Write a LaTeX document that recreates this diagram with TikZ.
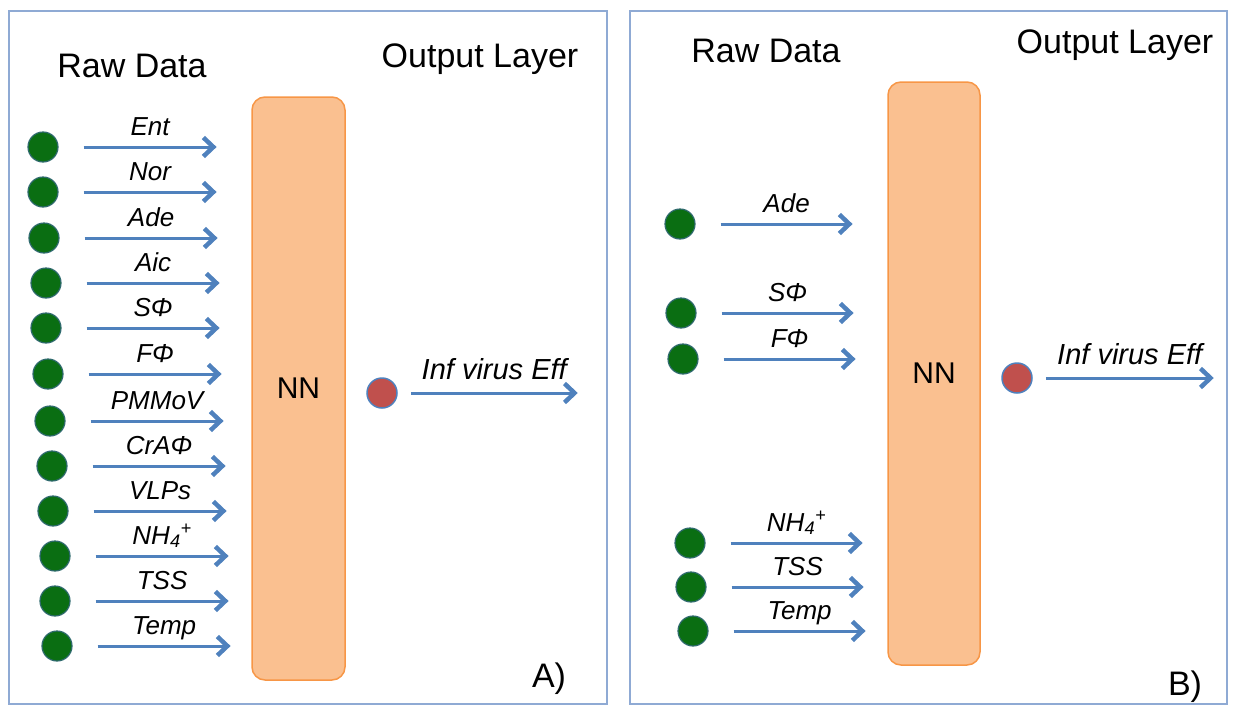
\documentclass[tikz,border=0pt]{standalone}
\usepackage{fontspec}
\setmainfont{Liberation Sans}
\usetikzlibrary{arrows.meta,positioning}
\tikzset{>={Straight Barb[length=10pt,width=19pt,line width=4.5pt]}}
\definecolor{frameColor}{HTML}{8FAAD4}
\definecolor{penColor}{HTML}{4F81BD}
\definecolor{dotGreen}{HTML}{0A6E12}
\definecolor{dotEdge}{HTML}{2F6A6E}
\definecolor{dotRed}{HTML}{C0504D}
\definecolor{nnFill}{HTML}{FAC090}
\definecolor{nnLine}{HTML}{F79646}
\newcommand{\titlefont}{\fontsize{34}{40}\selectfont}
\newcommand{\labelfont}{\fontsize{26}{30}\selectfont\itshape}

\begin{document}
\begin{tikzpicture}[x=1pt,y=-1pt,
	frame/.style={draw=frameColor,line width=2pt},
	indot/.style={circle,fill=dotGreen,draw=dotEdge,line width=1.2pt,minimum size=30pt,inner sep=0pt},
	outdot/.style={circle,fill=dotRed,draw=penColor,line width=1.5pt,minimum size=30pt,inner sep=0pt},
	flow/.style={->,penColor,line width=3pt},
	lbl/.style={midway,anchor=base,yshift=12pt,inner sep=0pt,text=black,font=\labelfont},
	nnbox/.style={draw=nnLine,fill=nnFill,line width=1.5pt,rounded corners=13pt,font=\fontsize{30}{34}\selectfont},
	title/.style={anchor=base,inner sep=0pt,font=\titlefont}]
\useasboundingbox (0,0) rectangle (1235,707);
% panel A
\draw[frame] (9,11) rectangle (607,704);
\node[title] (rawA) at (132,77) {Raw Data};
\node[title] (outA) at (480,67) {Output Layer};
\node[nnbox,minimum width=93pt,minimum height=583pt] (nnA) at (298.5,388.5) {NN};
\node[indot] (a1) at (43,147) {};
\node[indot] (a2) at (43,192) {};
\node[indot] (a3) at (44,238) {};
\node[indot] (a4) at (46,283) {};
\node[indot] (a5) at (46,328) {};
\node[indot] (a6) at (48,374) {};
\node[indot] (a7) at (50,421) {};
\node[indot] (a8) at (52,466) {};
\node[indot] (a9) at (53,511) {};
\node[indot] (a10) at (55,556) {};
\node[indot] (a11) at (55,601) {};
\node[indot] (a12) at (57,646) {};
\draw[flow] ([xshift=25pt]a1.east) -- ++(133,0) node[lbl] {Ent};
\draw[flow] ([xshift=25pt]a2.east) -- ++(133,0) node[lbl] {Nor};
\draw[flow] ([xshift=25pt]a3.east) -- ++(133,0) node[lbl] {Ade};
\draw[flow] ([xshift=25pt]a4.east) -- ++(133,0) node[lbl] {Aic};
\draw[flow] ([xshift=25pt]a5.east) -- ++(133,0) node[lbl] {SΦ};
\draw[flow] ([xshift=25pt]a6.east) -- ++(133,0) node[lbl] {FΦ};
\draw[flow] ([xshift=25pt]a7.east) -- ++(133,0) node[lbl] {PMMoV};
\draw[flow] ([xshift=25pt]a8.east) -- ++(133,0) node[lbl] {CrAΦ};
\draw[flow] ([xshift=25pt]a9.east) -- ++(133,0) node[lbl] {VLPs};
\draw[flow] ([xshift=25pt]a10.east) -- ++(133,0) node[lbl] {NH\textsubscript{4}\textsuperscript{+}};
\draw[flow] ([xshift=25pt]a11.east) -- ++(133,0) node[lbl] {TSS};
\draw[flow] ([xshift=25pt]a12.east) -- ++(133,0) node[lbl] {Temp};
\node[outdot] (effA) at (382,393) {};
\draw[flow] ([xshift=13pt]effA.east) -- ++(167,0) node[lbl,yshift=2pt,font=\fontsize{29}{34}\selectfont\itshape] {Inf virus Eff};
\node[title] (tagA) at (549,687) {A)};
% panel B
\draw[frame] (630,11) rectangle (1227,704);
\node[title] (rawB) at (766,62) {Raw Data};
\node[title] (outB) at (1115,53) {Output Layer};
\node[nnbox,minimum width=92pt,minimum height=583pt] (nnB) at (934,373.5) {NN};
\node[indot] (b1) at (680,224) {};
\node[indot] (b2) at (681,313) {};
\node[indot] (b3) at (683,359) {};
\node[indot] (b4) at (690,543) {};
\node[indot] (b5) at (691,587) {};
\node[indot] (b6) at (693,631) {};
\draw[flow] ([xshift=25pt]b1.east) -- ++(132,0) node[lbl] {Ade};
\draw[flow] ([xshift=25pt]b2.east) -- ++(132,0) node[lbl] {SΦ};
\draw[flow] ([xshift=25pt]b3.east) -- ++(132,0) node[lbl] {FΦ};
\draw[flow] ([xshift=25pt]b4.east) -- ++(132,0) node[lbl] {NH\textsubscript{4}\textsuperscript{+}};
\draw[flow] ([xshift=25pt]b5.east) -- ++(132,0) node[lbl] {TSS};
\draw[flow] ([xshift=25pt]b6.east) -- ++(132,0) node[lbl] {Temp};
\node[outdot] (effB) at (1017,378) {};
\draw[flow] ([xshift=13pt]effB.east) -- ++(168,0) node[lbl,yshift=2pt,font=\fontsize{29}{34}\selectfont\itshape] {Inf virus Eff};
\node[title] (tagB) at (1185,695) {B)};
\end{tikzpicture}
\end{document}
